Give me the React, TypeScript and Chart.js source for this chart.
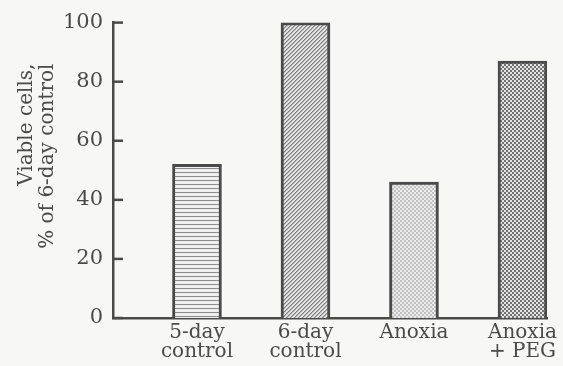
import React, { useEffect, useRef } from "react";
import { Chart, registerables } from "chart.js";

Chart.register(...registerables);

const categories: string[][] = [["5-day", "control"], ["6-day", "control"], ["Anoxia"], ["Anoxia", "+ PEG"]];
const values: number[] = [52, 100, 46, 87];
const yTicks: number[] = [0, 20, 40, 60, 80, 100];
const yTitle: string[] = ["Viable cells,", "% of 6-day control"];

const INK = "#4a4a4a";
const BG = "#f7f7f5";
const FONT = "'DejaVu Serif', serif";

function makePattern(kind: number): CanvasPattern | string {
  const c = document.createElement("canvas");
  c.width = 4;
  c.height = 4;
  const g = c.getContext("2d");
  if (!g) return "#ccc";
  const px = (x: number, y: number, col: string) => {
    g.fillStyle = col;
    g.fillRect(x, y, 1, 1);
  };
  if (kind === 0) {
    g.fillStyle = "#efefef";
    g.fillRect(0, 0, 4, 4);
    g.fillStyle = "#8c8c8c";
    g.fillRect(0, 0, 4, 1);
  } else if (kind === 1) {
    g.fillStyle = "#e4e4e4";
    g.fillRect(0, 0, 4, 4);
    const d = "#7e7e7e";
    px(3, 0, d); px(2, 1, d); px(1, 2, d); px(0, 3, d);
    px(0, 0, "#b0b0b0"); px(3, 1, "#b0b0b0"); px(2, 2, "#b0b0b0"); px(1, 3, "#b0b0b0");
  } else if (kind === 2) {
    g.fillStyle = "#ececec";
    g.fillRect(0, 0, 4, 4);
    g.fillStyle = "#c0c0c0";
    g.fillRect(0, 0, 2, 2);
    g.fillRect(2, 2, 2, 2);
  } else {
    g.fillStyle = "#e2e2e2";
    g.fillRect(0, 0, 4, 4);
    g.fillStyle = "#747474";
    g.fillRect(0, 0, 2, 2);
    g.fillRect(2, 2, 2, 2);
  }
  return g.createPattern(c, "repeat") || "#ccc";
}

const innerTicks = {
  id: "innerTicks",
  afterDraw(chart: any) {
    const y = chart.scales.y;
    const ctx = chart.ctx;
    const left = chart.chartArea.left;
    ctx.save();
    ctx.strokeStyle = INK;
    ctx.lineWidth = 2.5;
    for (const t of yTicks) {
      const py = y.getPixelForValue(t);
      ctx.beginPath();
      ctx.moveTo(left - 1, py);
      ctx.lineTo(left + 10, py);
      ctx.stroke();
    }
    ctx.restore();
  },
};

const yTitlePlugin = {
  id: "yTitlePlugin",
  afterDraw(chart: any) {
    const ctx = chart.ctx;
    const top = chart.chartArea.top + 41;
    const baselines = [32, 53];
    ctx.save();
    ctx.fillStyle = INK;
    ctx.font = `20px ${FONT}`;
    ctx.textAlign = "right";
    ctx.textBaseline = "alphabetic";
    yTitle.forEach((line, i) => {
      ctx.save();
      ctx.translate(baselines[i], top);
      ctx.rotate(-Math.PI / 2);
      ctx.fillText(line, 0, 0);
      ctx.restore();
    });
    ctx.restore();
  },
};

export default function App() {
  const ref = useRef<HTMLCanvasElement | null>(null);

  useEffect(() => {
    if (!ref.current) return;
    const patterns = [0, 1, 2, 3].map((k) => makePattern(k));
    const chart = new Chart(ref.current, {
      type: "bar",
      data: {
        datasets: [
          {
            data: values.map((v, i) => ({ x: i, y: v })),
            backgroundColor: patterns as any,
            borderColor: INK,
            borderWidth: 3,
            borderSkipped: "start",
            barThickness: 49,
          },
        ],
      },
      options: {
        responsive: false,
        animation: false,
        events: [],
        layout: { padding: { top: 20, right: 16, left: 0, bottom: 0 } },
        plugins: { legend: { display: false }, tooltip: { enabled: false }, title: { display: false } },
        scales: {
          x: {
            type: "linear",
            offset: false,
            min: -0.774,
            max: 3.226,
            grid: { display: false, drawTicks: false, offset: false },
            border: { display: true, color: INK, width: 2.5 },
            afterBuildTicks: (s: any) => {
              s.ticks = categories.map((_, i) => ({ value: i }));
            },
            afterFit: (s: any) => {
              s.height = 48;
            },
            ticks: {
              autoSkip: false,
              maxRotation: 0,
              padding: 5,
              color: INK,
              font: { family: FONT, size: 20, lineHeight: 0.95 },
              callback: (v: any) => categories[Number(v)] ?? "",
            },
          },
          y: {
            min: 0,
            max: 100,
            grid: { display: false, drawTicks: false },
            border: { display: true, color: INK, width: 2.5 },
            afterBuildTicks: (s: any) => {
              s.ticks = yTicks.map((v) => ({ value: v }));
            },
            afterFit: (s: any) => {
              s.width = 113;
            },
            ticks: {
              padding: 10,
              color: INK,
              font: { family: FONT, size: 21 },
            },
          },
        },
      },
      plugins: [innerTicks, yTitlePlugin],
    });
    return () => chart.destroy();
  }, []);

  return (
    <div style={{ position: "fixed", left: 0, top: 0, width: 563, height: 366, background: BG }}>
      <canvas ref={ref} width={563} height={366} style={{ display: "block" }} />
    </div>
  );
}
